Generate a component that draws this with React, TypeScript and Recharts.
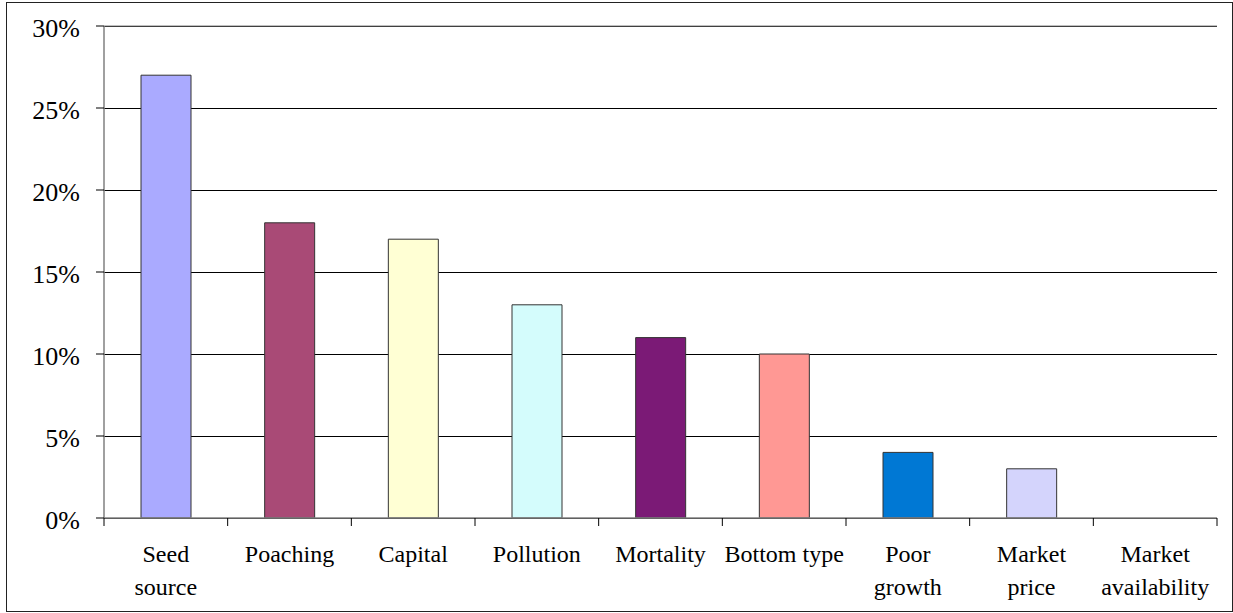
import { BarChart, Bar, XAxis, YAxis, CartesianGrid, ReferenceLine, Cell } from 'recharts';

const categories = [
  'Seed\nsource', 'Poaching', 'Capital', 'Pollution', 'Mortality',
  'Bottom type', 'Poor\ngrowth', 'Market\nprice', 'Market\navailability',
];
const percents = [27, 18, 17, 13, 11, 10, 4, 3, 0];
const barColors = [
  '#aaaaff', '#a94a76', '#ffffd4', '#d4fcfc', '#7b1a76',
  '#ff9894', '#0078d4', '#d4d4fc', '#ffffff',
];
const yTicks = [0, 5, 10, 15, 20, 25, 30];

const data = categories.map((name, i) => ({ name, value: percents[i] }));

const W = 1233;
const H = 613;
const PLOT_LEFT = 104;
const PLOT_RIGHT = 1217;
const BAND = (PLOT_RIGHT - PLOT_LEFT) / categories.length;
const FONT = "'Liberation Serif', 'Times New Roman', serif";

const CategoryTick = ({ x, y, payload, index }: any) => {
  const lines = String(payload.value).split('\n');
  const last = index === categories.length - 1;
  return (
    <g>
      <line x1={x - BAND / 2} x2={x - BAND / 2} y1={y} y2={y + 8} stroke="#000" />
      {last && <line x1={x + BAND / 2} x2={x + BAND / 2} y1={y} y2={y + 8} stroke="#000" />}
      <text x={x} y={y} textAnchor="middle" style={{ fontFamily: FONT, fontSize: 24 }} fill="#000">
        {lines.map((l, i) => (
          <tspan key={i} x={x} y={y + 44 + i * 33}>{l}</tspan>
        ))}
      </text>
    </g>
  );
};

const PercentTick = ({ x, y, payload }: any) => (
  <text x={x} y={y + 2} dy="0.355em" textAnchor="end" style={{ fontFamily: FONT, fontSize: 26 }} fill="#000">
    {`${payload.value}%`}
  </text>
);

export default function App() {
  return (
    <div style={{ position: 'absolute', left: 0, top: 0, width: W, height: H, background: '#fff' }}>
      <div style={{
        position: 'absolute', left: 6, top: 2, width: 1227, height: 610,
        border: '1px solid #222', boxSizing: 'border-box',
      }} />
      <div style={{ position: 'absolute', left: 0, top: 0 }}>
        <BarChart
          width={W}
          height={H}
          data={data}
          margin={{ top: 26, right: W - PLOT_RIGHT, left: 6, bottom: 0 }}
          barSize={50}
        >
          <CartesianGrid vertical={false} stroke="#000" strokeOpacity={1} shapeRendering="crispEdges" />
          <ReferenceLine y={30} stroke="#808080" ifOverflow="extendDomain" />
          <XAxis
            dataKey="name"
            interval={0}
            height={95}
            tick={<CategoryTick />}
            tickLine={false}
            tickSize={0}
            tickMargin={0}
            axisLine={{ stroke: '#808080', strokeWidth: 1.5 }}
          />
          <YAxis
            domain={[0, 30]}
            ticks={yTicks}
            width={PLOT_LEFT - 6}
            interval={0}
            tick={<PercentTick />}
            tickSize={8}
            tickMargin={16}
            tickLine={{ stroke: '#000' }}
            axisLine={{ stroke: '#808080', strokeWidth: 1.5 }}
          />
          <Bar dataKey="value" stroke="#333" strokeWidth={1} isAnimationActive={false}>
            {data.map((d, i) => <Cell key={i} fill={barColors[i]} />)}
          </Bar>
        </BarChart>
      </div>
    </div>
  );
}
